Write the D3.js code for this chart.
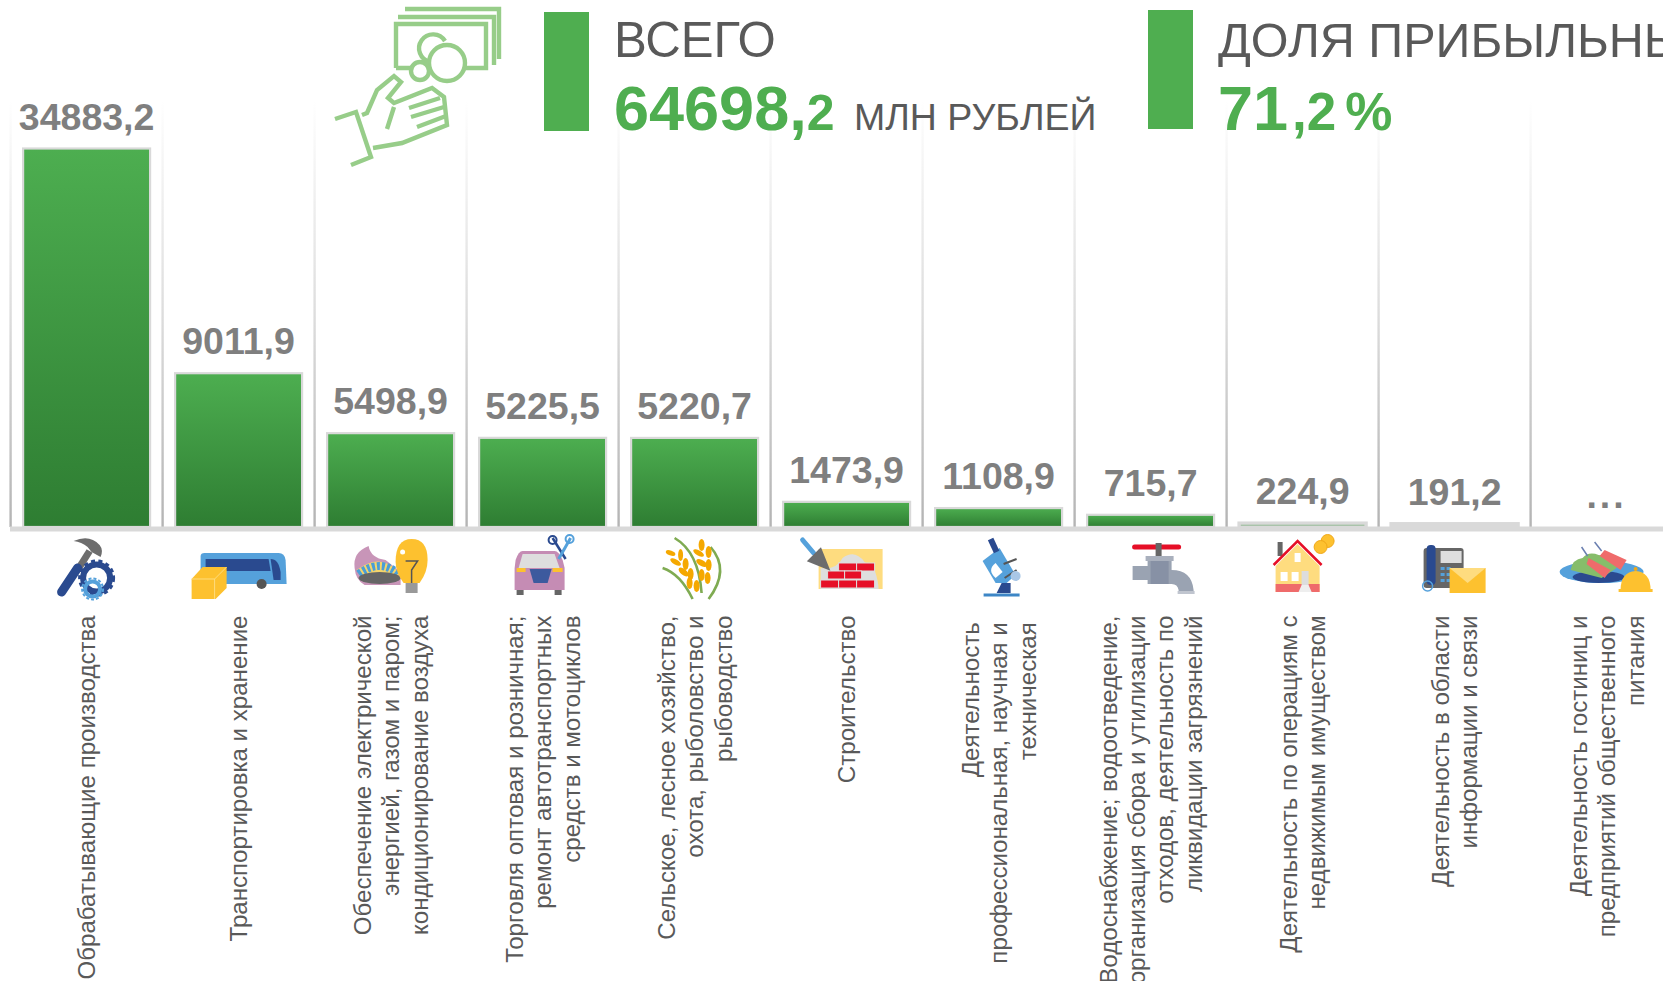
<!DOCTYPE html>
<html><head><meta charset="utf-8">
<script src="https://cdn.jsdelivr.net/npm/d3@7/dist/d3.min.js"></script>
<style>html,body{margin:0;padding:0;background:#fff;overflow:hidden}svg{display:block}text{font-family:"Liberation Sans",Arial,sans-serif}</style>
</head><body><svg id="c" width="1663" height="981"></svg>
<script>
const categories = [
 ["Обрабатывающие производства"],
 ["Транспортировка и хранение"],
 ["Обеспечение электрической","энергией, газом и паром;","кондиционирование воздуха"],
 ["Торговля оптовая и розничная;","ремонт автотранспортных","средств и мотоциклов"],
 ["Сельское, лесное хозяйство,","охота, рыболовство и","рыбоводство"],
 ["Строительство"],
 ["Деятельность\u00a0","профессиональная, научная и\u00a0","техническая\u00a0"],
 ["Водоснабжение; водоотведение,","организация сбора и утилизации","отходов, деятельность по","ликвидации загрязнений"],
 ["Деятельность по операциям с","недвижимым имуществом"],
 ["Деятельность в области","информации и связи"],
 ["Деятельность гостиниц и","предприятий общественного","питания"]
];
const values = [34883.2,9011.9,5498.9,5225.5,5220.7,1473.9,1108.9,715.7,224.9,191.2,null];
const valueLabels = ["34883,2","9011,9","5498,9","5225,5","5220,7","1473,9","1108,9","715,7","224,9","191,2","..."];

const svg = d3.select("#c");
const defs = svg.append("defs");
const bg = defs.append("linearGradient").attr("id","barG").attr("x1",0).attr("y1",0).attr("x2",0).attr("y2",1);
bg.append("stop").attr("offset",0).attr("stop-color","#4dae50");
bg.append("stop").attr("offset",1).attr("stop-color","#2e7d32");
const gg = defs.append("linearGradient").attr("id","gridG").attr("gradientUnits","userSpaceOnUse").attr("x1",0).attr("x2",0).attr("y1",100).attr("y2",527);
gg.append("stop").attr("offset",0).attr("stop-color","#b4b4b4").attr("stop-opacity",0);
gg.append("stop").attr("offset",.5).attr("stop-color","#b4b4b4").attr("stop-opacity",.45);
gg.append("stop").attr("offset",1).attr("stop-color","#b4b4b4").attr("stop-opacity",1);

const baseY = 527, topY = 148.5;
const x = d3.scaleBand().domain(d3.range(categories.length)).range([10.6,10.6+152*11]).paddingInner(.158).paddingOuter(.079);
// The value axis is cut: the tallest bar runs into the top of the plot
const y = d3.scaleLinear().domain([0,22180]).range([baseY,topY]).clamp(true);
const cx = i => x(i)+x.bandwidth()/2;

// gridlines
svg.append("g").selectAll("line").data(d3.range(11)).join("line")
 .attr("x1",i=>cx(i)-76).attr("x2",i=>cx(i)-76+0.01).attr("y1",100).attr("y2",baseY)
 .attr("stroke","url(#gridG)").attr("stroke-width",2.4);

// bars
svg.append("g").selectAll("rect").data(values).join("rect")
 .attr("x",(d,i)=>x(i)+.5).attr("width",x.bandwidth()-1)
 .attr("y",d=>y(d||0)).attr("height",d=>baseY-y(d||0))
 .attr("fill","url(#barG)").attr("stroke",d=>d==null?"none":"#d9d9d9")
 .attr("stroke-width",d=>baseY-y(d||0)<5?3.4:2.2);

// baseline
svg.append("line").attr("x1",10).attr("x2",1663).attr("y1",baseY+2).attr("y2",baseY+2).attr("stroke","#d9d9d9").attr("stroke-width",5);

// value labels
svg.append("g").selectAll("text").data(valueLabels).join("text")
 .attr("x",(d,i)=>cx(i)).attr("y",(d,i)=>y(values[i]||0)-19)
 .attr("text-anchor","middle").attr("font-size",37.5).attr("font-weight","bold").attr("fill","#7f7f7f")
 .attr("letter-spacing",(d,i)=>values[i]==null?3:0).text(d=>d);

// category labels
const lab = svg.append("g").selectAll("g").data(categories).join("g");
lab.each(function(lines,i){
  d3.select(this).selectAll("text").data(lines).join("text")
   .attr("transform",(l,k)=>`translate(${cx(i)+(k-(lines.length-1)/2)*28.4+8.5},615.5) rotate(-90)`)
   .attr("text-anchor","end").attr("font-size",24.1).attr("fill","#595959").attr("xml:space","preserve").text(l=>l);
});

// header
const G="#4fae50", T="#595959";
svg.append("rect").attr("x",544).attr("y",12).attr("width",45).attr("height",119).attr("fill",G);
svg.append("rect").attr("x",1148).attr("y",10).attr("width",45).attr("height",119).attr("fill",G);
svg.append("text").attr("x",614).attr("y",57).attr("font-size",49.2).attr("fill",T).text("ВСЕГО");
svg.append("text").attr("x",1218).attr("y",57).attr("font-size",48.5).attr("fill",T).text("ДОЛЯ ПРИБЫЛЬНЫХ");
const t1 = svg.append("text").attr("x",614).attr("y",130).attr("font-weight","bold").attr("fill",G);
t1.append("tspan").attr("font-size",63).text("64698,");
t1.append("tspan").attr("font-size",50).text("2");
svg.append("text").attr("x",854).attr("y",130).attr("font-size",37.5).attr("fill",T).text("МЛН РУБЛЕЙ");
const t2 = svg.append("text").attr("x",1218).attr("y",130).attr("font-weight","bold").attr("fill",G);
t2.append("tspan").attr("font-size",63).text("71");
t2.append("tspan").attr("font-size",53).attr("dx",4).text(",2");
t2.append("tspan").attr("font-size",53).attr("dx",9).text("%");

// hand & money pictogram
svg.append("g").attr("fill","none").attr("stroke","#97cd89").attr("stroke-width",4.4).html(`
 <path d="M405 9H499V59M398 17H494V65"/><path d="M396 68V24H486V68H396"/>
 <circle cx="447" cy="63" r="18" fill="#fff"/><circle cx="420" cy="71" r="9" fill="#fff"/>
 <path d="M445 41A14 14 0 1 0 430 62"/>
 <path d="M335 119L356 112L371 157L351 165"/>
 <path d="M362 115L367 113L377 90L394 76L401 82L388 98L394 103L432 88L444 97L447 125L402 143L373 148"/>
 <path d="M409 108L440 98M411 117L444 107M417 127L446 116M394 107L387 129"/>`);

// sector pictograms: x relative to the column centre
const icons = [
`<path d="M3 551L-9 570" stroke="#6d6d6d" stroke-width="7"/><path d="M-9 568L-25 592" stroke="#2a4a8f" stroke-width="9" stroke-linecap="round"/>
 <path d="M-13 541Q3 534 13 545Q17 550 14 557L5 552L1 547Q-5 542 -13 541Z" fill="#6d6d6d"/>
 <circle cx="10" cy="578" r="13.5" fill="none" stroke="#2a4a8f" stroke-width="6"/><circle cx="10" cy="578" r="17" fill="none" stroke="#2a4a8f" stroke-width="3" stroke-dasharray="4 3.4"/>
 <circle cx="6" cy="589" r="7.5" fill="none" stroke="#55a1db" stroke-width="4"/><circle cx="6" cy="589" r="10.5" fill="none" stroke="#55a1db" stroke-width="2" stroke-dasharray="3 2"/>`,
`<path d="M-38 556Q-38 553 -34 553H40Q46 553 47 560L48 584H-38Z" fill="#55a1db"/><path d="M-33 559H30L32 571H-33Z" fill="#2a4a8f"/><path d="M32 559Q40 559 42 572L42 580L35 580Z" fill="#2a4a8f"/>
 <circle cx="23" cy="584" r="5" fill="#555"/><path d="M-47 579L-36 567H-12L-12 588L-23 599H-47Z" fill="#fdc12f"/><path d="M-47 579H-24L-12 567M-24 579V599" fill="none" stroke="#fedc7f" stroke-width="1"/>`,
`<path d="M-36 568Q-38 552 -22 546Q-20 558 -5 560L10 572V585H-26Q-35 580 -36 568Z" fill="#c895b8"/><path d="M-34 570Q-10 552 8 572L8 580H-28Z" fill="#f5d56a"/>
 <path d="M-32 574Q-10 558 8 574" fill="none" stroke="#4a9ed8" stroke-width="8" stroke-dasharray="3 2"/><ellipse cx="-11" cy="578" rx="21" ry="6" fill="#666"/>
 <path d="M5 562Q5 539 21 539Q37 539 37 560Q37 572 29 583H13Q5 572 5 562Z" fill="#fdc12f"/><path d="M15 561H27L21 570V583M21 570V583" fill="none" stroke="#555" stroke-width="1.5"/><rect x="15" y="583" width="12" height="10" fill="#999"/><circle cx="12" cy="552" r="2.5" fill="#fff"/>`,
`<path d="M-27 560Q-24 551 -20 551H12Q16 551 20 560L22 568V590H-28V568Z" fill="#c58cb4"/><path d="M-20 554H12L17 568H-24Z" fill="#dedede"/><path d="M-13 569H9L5 583H-9Z" fill="#3d5a9e"/><rect x="-26" y="568" width="9" height="4" fill="#fdc12f"/><rect x="10" y="568" width="10" height="4" fill="#fdc12f"/><rect x="-26" y="590" width="7" height="5" fill="#666"/><rect x="12" y="590" width="7" height="5" fill="#666"/>
 <path d="M10 538L23 559" stroke="#2a4a8f" stroke-width="2.5"/><path d="M28 538L16 559" stroke="#55a1db" stroke-width="3"/><circle cx="10" cy="540" r="4" fill="none" stroke="#2a4a8f" stroke-width="2"/><circle cx="27" cy="539" r="4" fill="none" stroke="#55a1db" stroke-width="2"/>`,
`<path d="M-32 568Q-14 574 -2 599M-20 538Q4 552 7 593M16 547Q36 570 14 599" fill="none" stroke="#7fab52" stroke-width="2.6"/><g fill="#f5a800"><ellipse cx="-24" cy="553" rx="5" ry="2.5" transform="rotate(20 -24 553)"/><ellipse cx="-14" cy="555" rx="2.5" ry="6"/><ellipse cx="-19" cy="562" rx="6" ry="2.5" transform="rotate(30 -19 562)"/><ellipse cx="-9" cy="564" rx="3" ry="6"/><ellipse cx="-11" cy="572" rx="6" ry="3" transform="rotate(40 -11 572)"/><ellipse cx="-4" cy="574" rx="3" ry="6"/><ellipse cx="-5" cy="583" rx="3" ry="6"/><ellipse cx="2" cy="586" rx="3" ry="6"/><ellipse cx="7" cy="545" rx="3" ry="6"/><ellipse cx="4" cy="553" rx="6" ry="2.5" transform="rotate(30 4 553)"/><ellipse cx="14" cy="552" rx="3" ry="6"/><ellipse cx="7" cy="563" rx="6" ry="3" transform="rotate(30 7 563)"/><ellipse cx="14" cy="565" rx="3" ry="6"/><ellipse cx="7" cy="575" rx="3" ry="6"/><ellipse cx="13" cy="578" rx="3" ry="6"/></g>`,
`<rect x="-28" y="549" width="64" height="40" fill="#fedc7f"/><path d="M-26 589V568Q-10 570 -4 558Q8 549 18 562L28 570Q32 582 32 589Z" fill="#dedede"/>
 <g fill="#e60f27" stroke="#dedede"><rect x="-8" y="563" width="18" height="8"/><rect x="10" y="563" width="18" height="8"/><rect x="-19" y="571" width="17" height="8"/><rect x="-2" y="571" width="17" height="8"/><rect x="-26" y="580" width="18" height="8"/><rect x="-8" y="580" width="18" height="8"/><rect x="10" y="580" width="18" height="8"/></g>
 <path d="M-44 540L-33 553" stroke="#55a1db" stroke-width="5" stroke-linecap="round"/><path d="M-26 549L-38 561L-18 569Z" fill="#6d6d6d" stroke="#6d6d6d" stroke-width="2"/>`,
`<path d="M-15 595H21" stroke="#3d86c6" stroke-width="3"/><path d="M-2 593L3 583H12L12 593Z" fill="#2a4a8f"/><path d="M-16 561L1 548L17 575L8 583H-3Z" fill="#55a1db"/><path d="M-3 563Q-12 570 -3 578L4 572Z" fill="#fff"/>
 <path d="M-8 539L-2 552" stroke="#2a4a8f" stroke-width="6"/><path d="M5 564L18 559M6 578L18 570" stroke="#555" stroke-width="2"/><circle cx="17" cy="576" r="5" fill="#a9c7e6"/>`,
`<path d="M-16 547H28" stroke="#e60f27" stroke-width="5" stroke-linecap="round"/><rect x="5" y="543" width="6" height="14" fill="#666"/><rect x="-5" y="556" width="28" height="5" fill="#a9b0bd"/><path d="M-18 566H-3V561H21V570Q41 570 43 590V594H28V590Q27 584 21 584H-3V580H-18Z" fill="#9aa3b2"/><rect x="0" y="561" width="18" height="23" fill="#8791a5"/><rect x="27" y="591" width="17" height="3" fill="#c0c5cf"/>`,
`<rect x="-25" y="542" width="5" height="14" fill="#666"/><path d="M-27 566V592H17V566L-5 544Z" fill="#fedc7f"/><rect x="-27" y="584" width="44" height="8" fill="#ef6b6b"/><path d="M-29 565L-5 541L19 565" fill="none" stroke="#e60f27" stroke-width="2.5"/><rect x="-8" y="553" width="6" height="9" fill="#fff"/><rect x="-22" y="572" width="7" height="9" fill="#fff"/><rect x="-11" y="572" width="7" height="9" fill="#fff"/><rect x="-1" y="571" width="7" height="14" fill="#ddd"/><path d="M-4 592L-1 585H6L9 592Z" fill="#eee"/><circle cx="25" cy="541" r="6.5" fill="#fdc12f" stroke="#f0a818"/><circle cx="18" cy="547" r="6.5" fill="#fdc12f" stroke="#f0a818"/>`,
`<rect x="-31" y="548" width="40" height="40" rx="3" fill="#666"/><rect x="-28" y="545" width="9" height="40" rx="4" fill="#2a4a8f"/><rect x="-14" y="551" width="21" height="12" fill="#dedede"/><g fill="#55a1db"><rect x="-14" y="567" width="4" height="3"/><rect x="-8" y="567" width="4" height="3"/><rect x="-14" y="573" width="4" height="3"/><rect x="-8" y="573" width="4" height="3"/><rect x="-14" y="579" width="4" height="3"/><rect x="-8" y="579" width="4" height="3"/></g><circle cx="-27" cy="586" r="5" fill="none" stroke="#55a1db" stroke-width="1.5"/>
 <rect x="-5" y="568" width="36" height="25" fill="#fdc12f"/><path d="M-5 568L13 583L31 568Z" fill="#fedc7f"/>`,
`<ellipse cx="-5" cy="572" rx="42" ry="11" fill="#55a1db"/><ellipse cx="-8" cy="577" rx="26" ry="6" fill="#2a4a8f"/><path d="M-36 570Q-34 559 -24 558Q-18 551 -8 555Q8 556 10 568L-5 578Z" fill="#86bd6a"/><path d="M-18 558L4 570L-2 578L-20 564Z" fill="#ef6b6b"/><path d="M-2 550L20 560L14 570L-7 556Z" fill="#ef6b6b"/><path d="M-19 556L-25 547M-5 551L-12 542" stroke="#6a7fb0" stroke-width="1.5"/>
 <path d="M14 590Q14 572 29 571Q44 572 44 590Z" fill="#fdc12f"/><rect x="12" y="589" width="34" height="3" fill="#fdc12f"/><circle cx="29" cy="569" r="2" fill="#f0a818"/>`
];
svg.append("g").selectAll("g").data(icons).join("g").attr("transform",(d,i)=>`translate(${cx(i)},0)`).html(d=>d);
</script></body></html>
